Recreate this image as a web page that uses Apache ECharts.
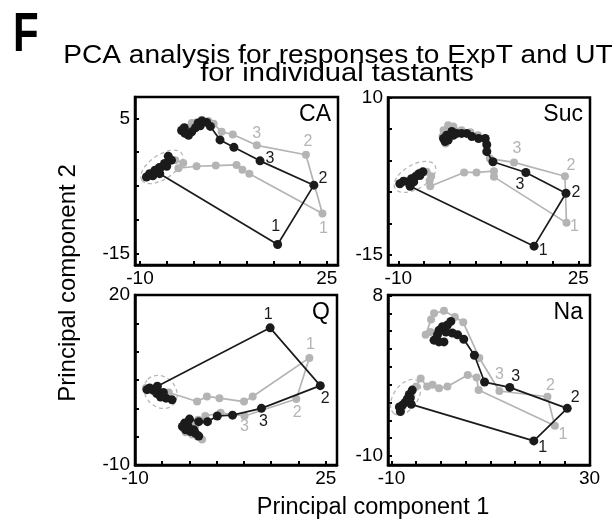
<!DOCTYPE html>
<html><head><meta charset="utf-8">
<script src="https://cdn.jsdelivr.net/npm/echarts@6/dist/echarts.min.js"></script>
<style>html,body{margin:0;padding:0;background:#fff}#c{width:613px;height:520px}</style>
</head><body><div id="c"></div>
<script>
// ---------- DATA (PC1, PC2) ----------
// CA
const caBlackStart = [[-8.8,-3.7],[-8.2,-3.2],[-7.6,-3.5],[-7.2,-2.7],[-6.4,-2.3],[-5.4,-1.7],[-4.7,-0.6],[-4.1,-1.2],[-5.0,-2.1],[-6.3,-3.2]];
const caBlackKey = [[15.8,-13.7],[22.6,-4.9],[12.5,-1.3]];
const caBlackEnd = [[7.6,0.7],[5.0,1.8],[3.2,3.8],[2.5,4.4],[1.6,4.6],[0.9,4.3],[1.3,3.9],[0.4,3.6],[-0.3,3.0],[-0.9,2.5],[-1.6,2.8],[-2.2,3.2],[-1.7,3.6]];
const caGrayStart = [[-8.5,-3.6],[-7.5,-3.0],[-6.5,-2.4],[-5.5,-1.8],[-4.5,-1.0],[-3.4,-1.2],[-1.9,-1.6],[-2.8,-2.4],[0.6,-2.1],[4.2,-2.0],[8.1,-1.9],[9.2,-2.6],[10.5,-3.2]];
const caGrayKey = [[24.2,-9.1],[21.1,-0.4],[11.9,1.0]];
const caGrayEnd = [[7.4,2.6],[5.3,3.0],[3.8,4.2],[2.8,4.6],[1.6,4.8],[0.5,4.4],[-0.3,4.3],[-1.2,3.6],[-2.2,3.4],[-1.6,2.7]];
// Suc
const sucBlackStart = [[-9.7,-3.7],[-9.0,-3.3],[-8.1,-3.4],[-7.4,-2.9],[-6.7,-2.6],[-6.0,-2.1],[-5.2,-1.8],[-5.8,-2.4],[-7.0,-3.4],[-7.7,-4.1]];
const sucBlackKey = [[16.4,-13.6],[22.6,-5.2],[14.8,-1.9]];
const sucBlackEnd = [[8.4,-0.2],[7.2,1.4],[7.2,2.5],[6.9,3.5],[5.6,3.5],[4.3,3.8],[3.3,4.3],[2.3,4.3],[1.35,4.3],[0.4,4.6],[-0.6,4.0],[-1.2,3.5],[-0.9,3.0],[-0.3,3.25],[0.7,4.0]];
const sucGrayStart = [[-9.5,-3.6],[-8.5,-3.2],[-7.5,-2.8],[-6.5,-2.3],[-5.5,-1.8],[-4.5,-1.8],[-3.6,-2.5],[-3.9,-3.2],[-3.8,-4.1],[2.8,-1.9],[5.2,-1.9],[8.6,-1.7],[8.6,-2.6]];
const sucGrayKey = [[22.7,-9.9],[22.4,-2.5],[12.5,-0.3]];
const sucGrayEnd = [[7.8,0.3],[7.3,1.6],[7.0,3.0],[5.5,4.0],[4.0,4.5],[2.3,4.8],[0.7,5.4],[-0.3,5.6],[-1.2,4.8],[-1.4,3.8],[-0.8,2.7]];
// Q
const qBlackStart = [[-7.8,3.3],[-7.3,3.6],[-6.6,3.2],[-6.0,2.6],[-5.3,2.0],[-4.3,1.8],[-3.2,1.5],[-4.8,2.8],[-5.9,3.9]];
const qBlackKey = [[14.8,14.2],[24.0,4.0],[13.2,0.0]];
const qBlackEnd = [[7.9,-1.2],[5.1,-1.35],[3.3,-2.35],[1.7,-2.35],[0.0,-1.9],[-0.9,-2.6],[-1.3,-3.2],[-0.7,-3.8],[0.2,-4.1],[1.1,-4.4],[1.7,-4.9],[0.8,-3.8],[-0.3,-3.0]];
const qGrayStart = [[-8.0,3.6],[-7.0,3.2],[-6.0,2.7],[-5.0,2.3],[-3.8,2.8],[1.4,1.2],[3.2,2.1],[5.5,1.8],[10.0,1.2],[11.6,2.1]];
const qGrayKey = [[22.0,8.9],[19.6,1.65],[10.1,-1.35]];
const qGrayEnd = [[5.7,-0.8],[2.9,-1.35],[1.6,-2.0],[0.2,-2.6],[-1.0,-3.6],[-0.7,-4.2],[0.5,-4.6],[1.5,-5.0],[2.3,-5.5],[1.0,-3.3]];
// Na
const naBlackStart = [[-8.2,-5.0],[-8.4,-4.5],[-7.8,-4.3],[-7.3,-4.0],[-6.8,-3.6],[-6.4,-3.1],[-5.8,-2.6],[-6.2,-3.5],[-6.0,-4.2]];
const naBlackKey = [[18.75,-8.3],[25.5,-4.65],[13.9,-2.3]];
const naBlackEnd = [[8.8,-1.7],[6.75,1.3],[4.6,3.1],[3.35,3.6],[2.3,3.8],[1.0,3.9],[2.0,5.1],[1.3,4.7],[0.3,4.5],[-0.4,4.1],[-0.7,3.6],[-1.4,3.0],[-0.4,2.8],[0.6,2.8]];
const naGrayStart = [[-8.0,-4.8],[-7.0,-4.0],[-6.0,-3.2],[-5.0,-2.2],[-4.1,-1.3],[-2.8,-2.2],[-1.7,-2.0],[-0.4,-2.4],[1.3,-2.2],[5.4,-0.9],[7.2,-1.2],[7.6,-2.6]];
const naGrayKey = [[23.0,-6.6],[21.5,-3.35],[11.8,-2.7]];
const naGrayEnd = [[7.75,1.0],[4.5,5.0],[2.8,5.6],[0.6,6.3],[-1.4,6.0],[-2.0,5.3],[-3.1,3.6],[-2.1,3.9],[-1.0,3.2]];
// baseline cluster centres (dashed ellipses)
const caBase = [-5.9,-2.2], sucBase = [-6.75,-2.6], qBase = [-5.3,2.9], naBase = [-7.15,-3.4];
// ticks and tick labels
const caXTicks = [-10,-5,0,5,10,15,20,25], caYTicks = [-15,-10,-5,0,5];
const sucXTicks = [-10,-5,0,5,10,15,20,25], sucYTicks = [-15,-10,-5,0,5,10];
const qXTicks = [-10,-5,0,5,10,15,20,25], qYTicks = [-10,-5,0,5,10,15,20];
const naXTicks = [-10,-5,0,5,10,15,20,25,30], naYTicks = [-10,-8,-6,-4,-2,0,2,4,6,8];
const caXLabels = [-10,25], caYLabels = [-15,5];
const sucXLabels = [-10,25], sucYLabels = [-15,10];
const qXLabels = [-10,25], qYLabels = [-10,20];
const naXLabels = [-10,30], naYLabels = [-10,8];
const keyNames = ['1','2','3'];
const panelNames = ['CA','Suc','Q','Na'];

// ---------- LAYOUT / STYLE ----------
const FONT = "'Liberation Sans', Arial, Helvetica, sans-serif";
const BLACK = '#1b1b1b', GRAY = '#b4b4b4';
const panels = [
  {name:panelNames[0], grid:{left:135,top:97,width:203,height:168}, x:[-10.94,27.12], y:[-16.73,8.16],
   xt:caXTicks, yt:caYTicks, xl:caXLabels, yl:caYLabels,
   b:[caBlackStart,caBlackKey,caBlackEnd], g:[caGrayStart,caGrayKey,caGrayEnd],
   bOff:[[-2,-18],[9,-7],[10,-2]], gOff:[[1,15],[2,-13],[0,-12]],
   base:caBase, ell:{rx:24,ry:12,rot:34}},
  {name:panelNames[1], grid:{left:388,top:97.5,width:202,height:167.5}, x:[-12.0,27.27], y:[-16.59,10],
   xt:sucXTicks, yt:sucYTicks, xl:sucXLabels, yl:sucYLabels,
   b:[sucBlackStart,sucBlackKey,sucBlackEnd], g:[sucGrayStart,sucGrayKey,sucGrayEnd],
   bOff:[[9,4],[10,-1],[-6,12]], gOff:[[8,4],[6,-11],[3,-14]],
   base:sucBase, ell:{rx:23,ry:12,rot:30}},
  {name:panelNames[2], grid:{left:135,top:295,width:202,height:170}, x:[-10,27.07], y:[-10,20],
   xt:qXTicks, yt:qYTicks, xl:qXLabels, yl:qYLabels,
   b:[qBlackStart,qBlackKey,qBlackEnd], g:[qGrayStart,qGrayKey,qGrayEnd],
   bOff:[[-2,-13],[5,13],[2,13]], gOff:[[1,-13],[1,14],[0,11]],
   base:qBase, ell:{rx:18,ry:15,rot:-45}},
  {name:panelNames[3], grid:{left:388,top:295,width:202,height:170}, x:[-10.7,30.1], y:[-11.0,8.06],
   xt:naXTicks, yt:naYTicks, xl:naXLabels, yl:naYLabels,
   b:[naBlackStart,naBlackKey,naBlackEnd], g:[naGrayStart,naGrayKey,naGrayEnd],
   bOff:[[9,7],[8,-11],[6,-11]], gOff:[[8,9],[3,-11],[0,-16]],
   base:naBase, ell:{rx:20,ry:12,rot:55}}
];

const grids = [], xAxes = [], yAxes = [], series = [], graphics = [];
function buildData(parts, offs, color) {
  const out = [];
  parts[0].forEach(p => out.push(p));
  parts[1].forEach((p, k) => out.push({value:p, label:{show:true, formatter:keyNames[k], position:'inside',
    offset:offs[k], color:color, fontSize:16, fontFamily:FONT}}));
  parts[2].forEach(p => out.push(p));
  return out;
}
panels.forEach((P, i) => {
  grids.push(Object.assign({show:true, borderColor:'#000', borderWidth:2.5, backgroundColor:'transparent'}, P.grid));
  xAxes.push({gridIndex:i, type:'value', min:P.x[0], max:P.x[1],
    axisLine:{show:true, onZero:false, lineStyle:{color:'#000', width:2.5}},
    axisTick:{show:true, inside:true, length:4, lineStyle:{color:'#000', width:2}, customValues:P.xt},
    axisLabel:{show:true, customValues:P.xl, color:'#000', fontSize:19, fontFamily:FONT, margin:4},
    splitLine:{show:false}});
  yAxes.push({gridIndex:i, type:'value', min:P.y[0], max:P.y[1],
    axisLine:{show:true, onZero:false, lineStyle:{color:'#000', width:2.5}},
    axisTick:{show:true, inside:true, length:4, lineStyle:{color:'#000', width:2}, customValues:P.yt},
    axisLabel:{show:true, customValues:P.yl, color:'#000', fontSize:19, fontFamily:FONT, margin:5},
    splitLine:{show:false}});
  const E = P.ell;
  series.push({type:'custom', xAxisIndex:i, yAxisIndex:i, data:[P.base], z:1, silent:true,
    renderItem:(params, api) => {
      const c = api.coord([api.value(0), api.value(1)]);
      return {type:'ellipse', x:c[0], y:c[1], rotation:E.rot*Math.PI/180,
        shape:{cx:0, cy:0, rx:E.rx, ry:E.ry},
        style:{fill:'none', stroke:'#b8b8b8', lineWidth:1.3, lineDash:[4,3]}};
    }});
  series.push({type:'line', xAxisIndex:i, yAxisIndex:i, data:buildData(P.g, P.gOff, GRAY), z:2,
    symbol:'circle', symbolSize:8, showSymbol:true, showAllSymbol:true,
    lineStyle:{color:GRAY, width:1.7}, itemStyle:{color:GRAY}, emphasis:{disabled:true}});
  series.push({type:'line', xAxisIndex:i, yAxisIndex:i, data:buildData(P.b, P.bOff, BLACK), z:3,
    symbol:'circle', symbolSize:9, showSymbol:true, showAllSymbol:true,
    lineStyle:{color:BLACK, width:1.7}, itemStyle:{color:BLACK}, emphasis:{disabled:true}});
  graphics.push({type:'text', right: 613 - (P.grid.left + P.grid.width) + 7, top: P.grid.top + 6,
    style:{text:P.name, fontSize:23, fontFamily:FONT, fill:'#000'}});
});

graphics.push({type:'text', x:13, y:8, scaleX:0.75, style:{text:'F', fontSize:56, fontWeight:'bold', fontFamily:FONT, fill:'#000'}});
graphics.push({type:'text', x:338, y:56, scaleX:1.08, style:{text:'PCA analysis for responses to ExpT and UT', fontSize:26, fontFamily:FONT, fill:'#000', align:'center', verticalAlign:'middle'}});
graphics.push({type:'text', x:337, y:74, scaleX:1.12, style:{text:'for individual tastants', fontSize:26, fontFamily:FONT, fill:'#000', align:'center', verticalAlign:'middle'}});
graphics.push({type:'text', x:373, y:508, style:{text:'Principal component 1', fontSize:23.5, fontFamily:FONT, fill:'#000', align:'center', verticalAlign:'middle'}});
graphics.push({type:'text', x:68, y:283, rotation:Math.PI/2, style:{text:'Principal component 2', fontSize:24, fontFamily:FONT, fill:'#000', align:'center', verticalAlign:'middle'}});

const chart = echarts.init(document.getElementById('c'), null, {renderer:'canvas'});
chart.setOption({animation:false, backgroundColor:'#fff', grid:grids, xAxis:xAxes, yAxis:yAxes, series:series, graphic:graphics});
</script></body></html>
